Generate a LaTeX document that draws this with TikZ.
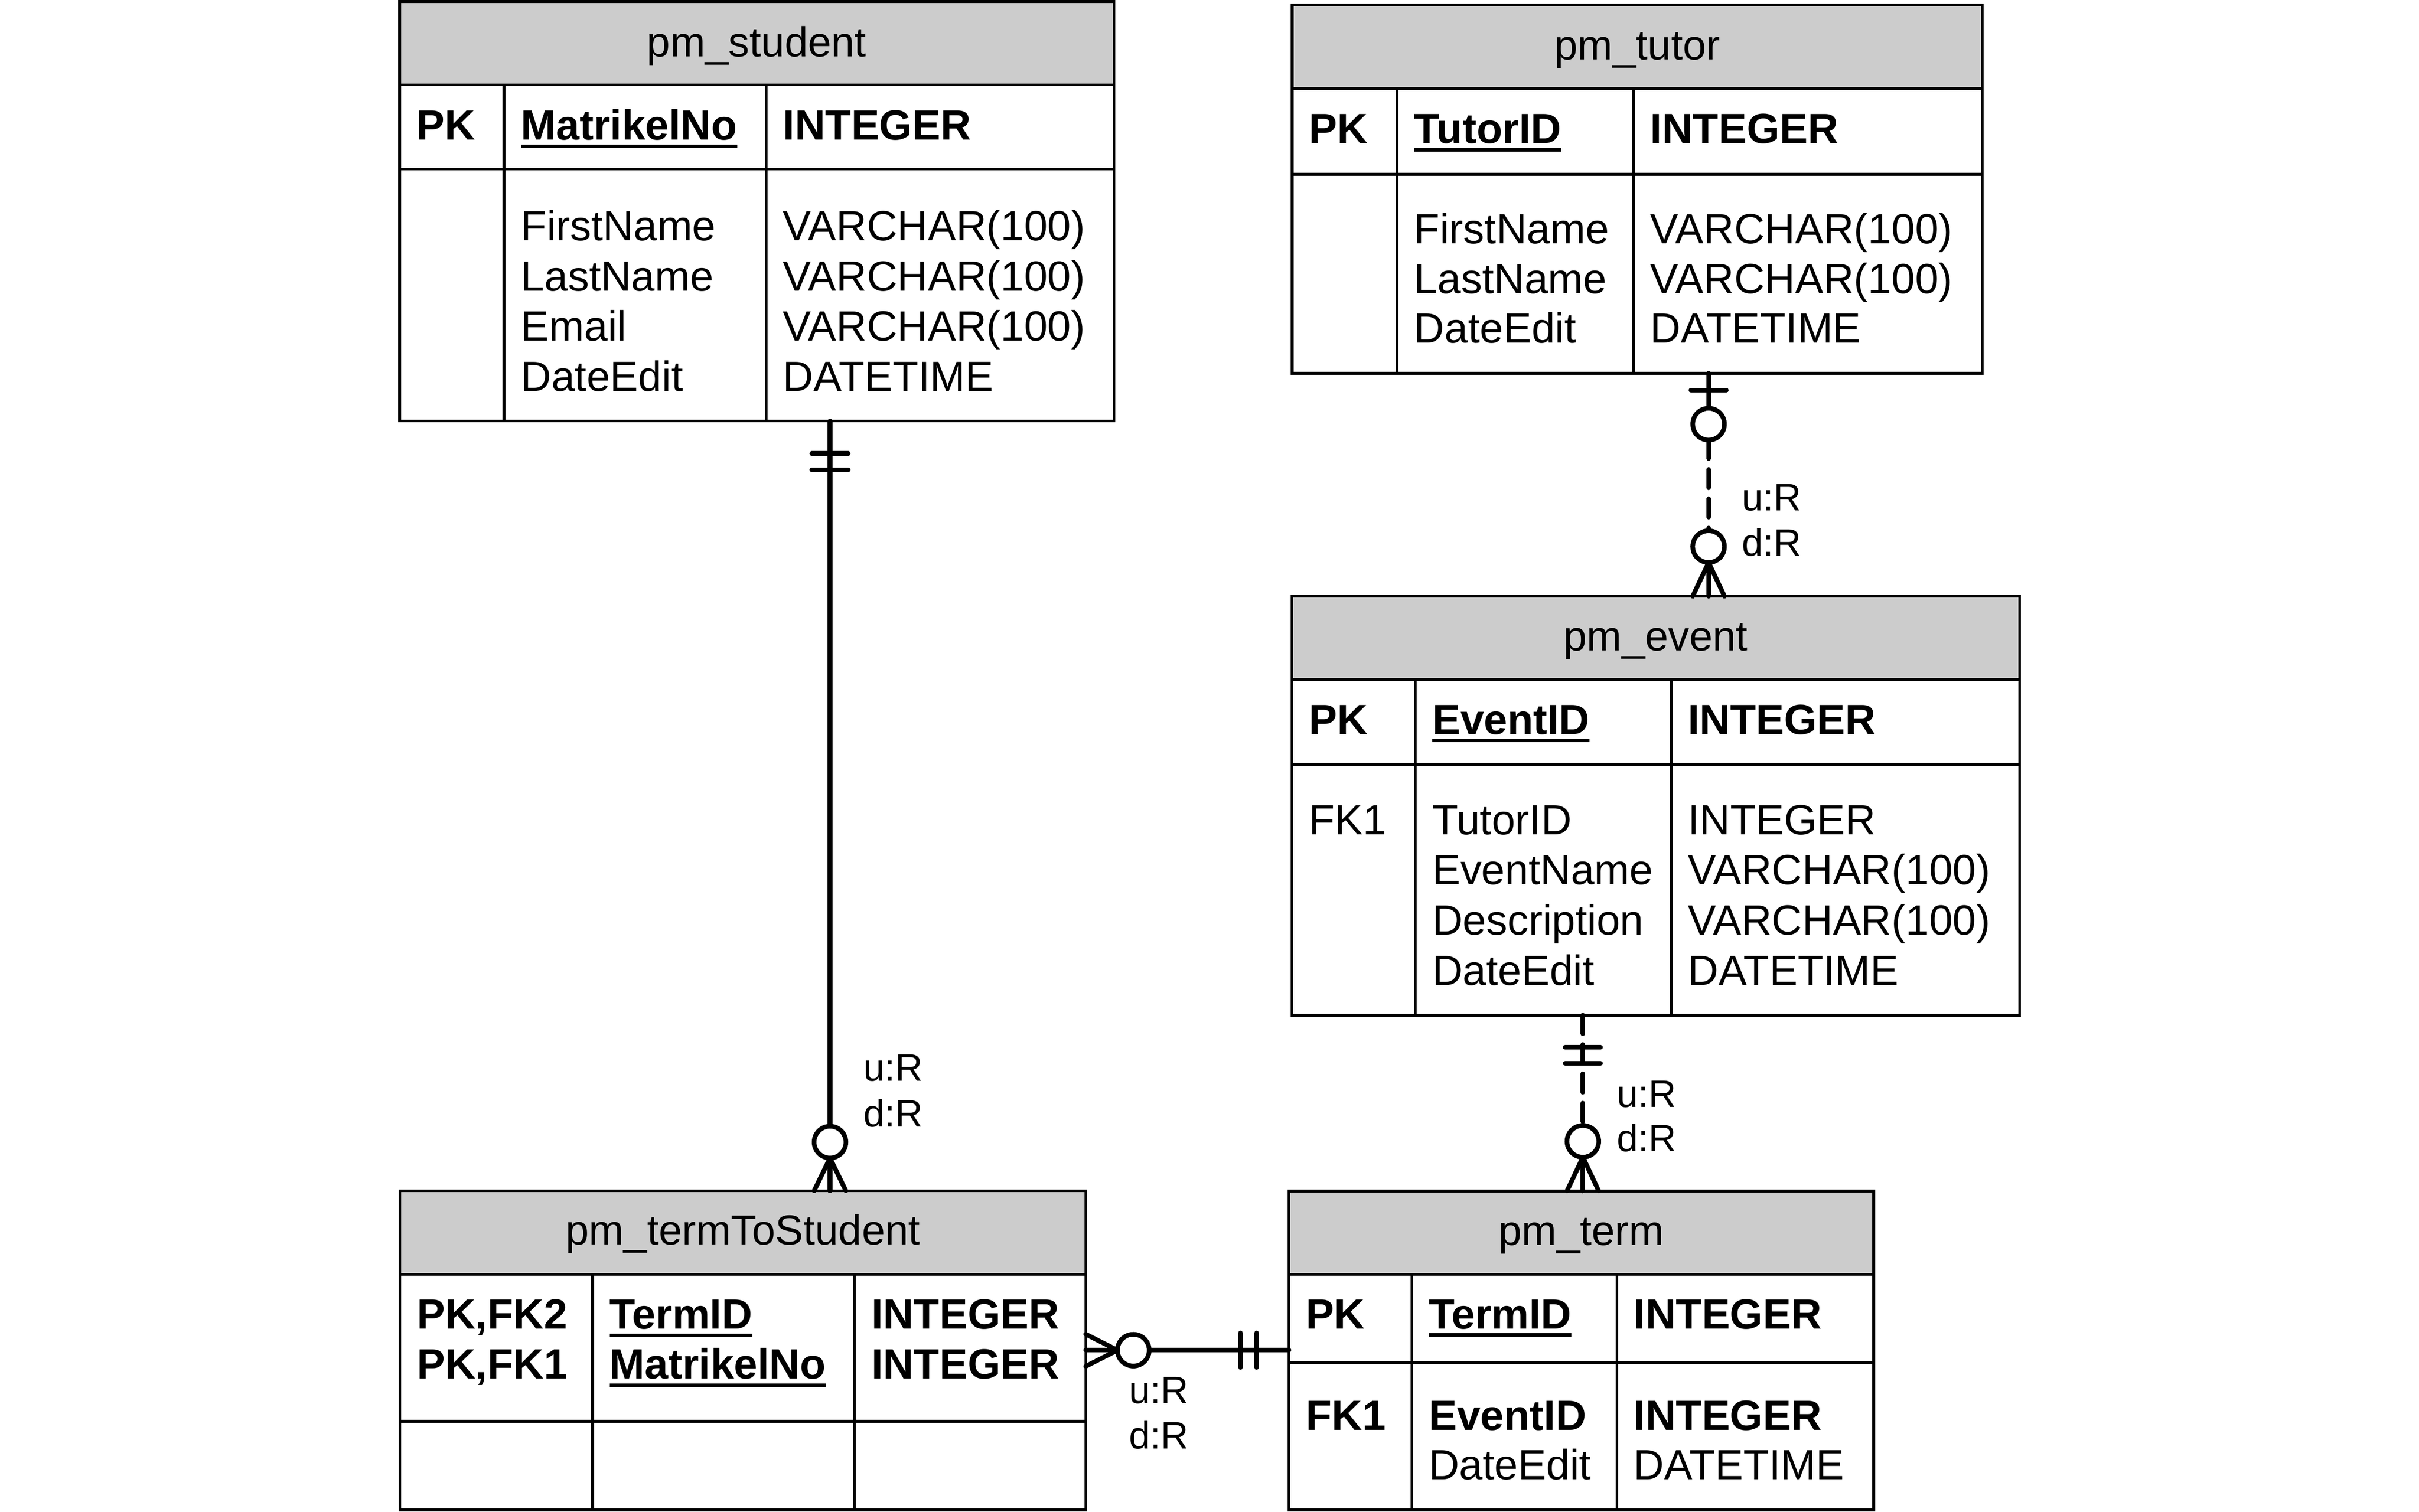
\documentclass[tikz,border=0pt]{standalone}
\usepackage{fontspec}
\setmainfont{Liberation Sans}
\definecolor{hdrgray}{RGB}{204,204,204}
\newcommand\ulword[1]{\setbox0\hbox{#1}\rlap{\rule[-5.2pt]{\wd0}{2.2pt}}\box0}
\begin{document}
\begin{tikzpicture}[x=1pt,y=-1pt,
  txt/.style={font=\fontsize{27.4}{32.5}\selectfont, inner sep=0pt, outer sep=0pt, anchor=base west, xshift=1pt},
  ttl/.style={font=\fontsize{27.2}{32.5}\selectfont, inner sep=0pt, outer sep=0pt, anchor=base},
  lbl/.style={font=\fontsize{24.8}{29.5}\selectfont, inner sep=0pt, outer sep=0pt, anchor=base west},
  box/.style={draw, line width=1.75pt, inner sep=0pt, outer sep=0pt, anchor=north west},
  grid/.style={line width=1.75pt},
  conn/.style={line width=3pt, line cap=round},
  dsh/.style={dash pattern=on 12pt off 7pt},
  crow/.style={line width=3pt, line cap=round, line join=round},
  barst/.style={line width=3pt, line cap=round},
  circ/.style={line width=3pt, fill=white}]
\useasboundingbox (0,0) rectangle (1568,980);

% ---------------- pm_student
\fill[hdrgray] (259,1) rectangle (722,55);
\node[box, minimum width=463pt, minimum height=272pt] (student) at (259,1) {};
\draw[grid] (259,55) -- (722,55) (259,109.5) -- (722,109.5)
  (326.7,55) -- (326.7,273) (496.6,55) -- (496.6,273);
\node[ttl] (student-t) at (490.5,36.6) {pm\_student};
\node[txt] (student-k) at (269,90.6) {\textbf{PK}};
\node[txt] (student-n) at (336.7,90.6) {\textbf{\ulword{MatrikelNo}}};
\node[txt] (student-d) at (506.6,90.6) {\textbf{INTEGER}};
\node[txt] (student-a1) at (336.7,156) {FirstName};
\node[txt] (student-a2) at (336.7,188.5) {LastName};
\node[txt] (student-a3) at (336.7,221) {Email};
\node[txt] (student-a4) at (336.7,253.6) {DateEdit};
\node[txt] (student-b1) at (506.6,156) {VARCHAR(100)};
\node[txt] (student-b2) at (506.6,188.5) {VARCHAR(100)};
\node[txt] (student-b3) at (506.6,221) {VARCHAR(100)};
\node[txt] (student-b4) at (506.6,253.6) {DATETIME};

% ---------------- pm_tutor
\fill[hdrgray] (837.6,3) rectangle (1285,57.5);
\node[box, minimum width=447.4pt, minimum height=239pt] (tutor) at (837.6,3) {};
\draw[grid] (837.6,57.5) -- (1285,57.5) (837.6,113) -- (1285,113)
  (905.6,57.5) -- (905.6,242) (1058.8,57.5) -- (1058.8,242);
\node[ttl] (tutor-t) at (1061.3,38.7) {pm\_tutor};
\node[txt] (tutor-k) at (847.6,93) {\textbf{PK}};
\node[txt] (tutor-n) at (915.6,93) {\textbf{\ulword{TutorID}}};
\node[txt] (tutor-d) at (1068.8,93) {\textbf{INTEGER}};
\node[txt] (tutor-a1) at (915.6,158) {FirstName};
\node[txt] (tutor-a2) at (915.6,190.4) {LastName};
\node[txt] (tutor-a3) at (915.6,222.4) {DateEdit};
\node[txt] (tutor-b1) at (1068.8,158) {VARCHAR(100)};
\node[txt] (tutor-b2) at (1068.8,190.4) {VARCHAR(100)};
\node[txt] (tutor-b3) at (1068.8,222.4) {DATETIME};

% ---------------- pm_event
\fill[hdrgray] (837.4,386.6) rectangle (1309,440.7);
\node[box, minimum width=471.6pt, minimum height=271.6pt] (event) at (837.4,386.6) {};
\draw[grid] (837.4,440.7) -- (1309,440.7) (837.4,495.5) -- (1309,495.5)
  (917.4,440.7) -- (917.4,658.2) (1083.2,440.7) -- (1083.2,658.2);
\node[ttl] (event-t) at (1073.2,422) {pm\_event};
\node[txt] (event-k) at (847.4,476) {\textbf{PK}};
\node[txt] (event-n) at (927.4,476) {\textbf{\ulword{EventID}}};
\node[txt] (event-d) at (1093.2,476) {\textbf{INTEGER}};
\node[txt] (event-f) at (847.4,541) {FK1};
\node[txt] (event-a1) at (927.4,541) {TutorID};
\node[txt] (event-a2) at (927.4,573.6) {EventName};
\node[txt] (event-a3) at (927.4,606) {Description};
\node[txt] (event-a4) at (927.4,638.7) {DateEdit};
\node[txt] (event-b1) at (1093.2,541) {INTEGER};
\node[txt] (event-b2) at (1093.2,573.6) {VARCHAR(100)};
\node[txt] (event-b3) at (1093.2,606) {VARCHAR(100)};
\node[txt] (event-b4) at (1093.2,638.7) {DATETIME};

% ---------------- pm_term
\fill[hdrgray] (835.5,772.2) rectangle (1214.5,826.2);
\node[box, minimum width=379pt, minimum height=206.8pt] (term) at (835.5,772.2) {};
\draw[grid] (835.5,826.2) -- (1214.5,826.2) (835.5,883.4) -- (1214.5,883.4)
  (915.2,826.2) -- (915.2,979) (1048,826.2) -- (1048,979);
\node[ttl] (term-t) at (1025,807.5) {pm\_term};
\node[txt] (term-k) at (845.5,861.5) {\textbf{PK}};
\node[txt] (term-n) at (925.2,861.5) {\textbf{\ulword{TermID}}};
\node[txt] (term-d) at (1058,861.5) {\textbf{INTEGER}};
\node[txt] (term-f) at (845.5,927.2) {\textbf{FK1}};
\node[txt] (term-a1) at (925.2,927.2) {\textbf{EventID}};
\node[txt] (term-a2) at (925.2,959.2) {DateEdit};
\node[txt] (term-b1) at (1058,927.2) {\textbf{INTEGER}};
\node[txt] (term-b2) at (1058,959.2) {DATETIME};

% ---------------- pm_termToStudent
\fill[hdrgray] (259.3,772.1) rectangle (703.7,826.3);
\node[box, minimum width=444.4pt, minimum height=206.9pt] (tts) at (259.3,772.1) {};
\draw[grid] (259.3,826.3) -- (703.7,826.3) (259.3,921.5) -- (703.7,921.5)
  (384.2,826.3) -- (384.2,979) (553.8,826.3) -- (553.8,979);
\node[ttl] (tts-t) at (481.5,807) {pm\_termToStudent};
\node[txt] (tts-k1) at (269.3,861.7) {\textbf{PK,FK2}};
\node[txt] (tts-k2) at (269.3,894) {\textbf{PK,FK1}};
\node[txt] (tts-n1) at (394.2,861.7) {\textbf{\ulword{TermID}}};
\node[txt] (tts-n2) at (394.2,894) {\textbf{\ulword{MatrikelNo}}};
\node[txt] (tts-d1) at (563.8,861.7) {\textbf{INTEGER}};
\node[txt] (tts-d2) at (563.8,894) {\textbf{INTEGER}};

% ---------------- connectors
\coordinate (ca) at (538,0);
\coordinate (cb) at (1107.5,0);
\coordinate (cc) at (1026,0);
\coordinate (cd) at (0,875.4);

% student -> termToStudent
\draw[conn] (ca |- student.south) -- (ca |- tts.north);
\draw[barst] (526.2,294) -- (549.8,294) (526.2,304.7) -- (549.8,304.7);
\draw[crow] (527.7,772.1) -- (538,750.8) -- (548.3,772.1);
\draw[circ] (538,740.5) circle[radius=10.3];
\node[lbl] (la1) at (559.7,701) {u:R};
\node[lbl] (la2) at (559.7,730.5) {d:R};

% tutor -> event
\draw[conn] (cb |- tutor.south) -- (1107.5,264.7);
\draw[conn, dsh] (1107.5,285.3) -- (1107.5,344.1);
\draw[conn] (1107.5,364.7) -- (cb |- event.north);
\draw[barst] (1096,253) -- (1119,253);
\draw[circ] (1107.5,275) circle[radius=10.3];
\draw[crow] (1097.2,386.6) -- (1107.5,364.7) -- (1117.8,386.6);
\draw[circ] (1107.5,354.4) circle[radius=10.3];
\node[lbl] (lb1) at (1129.1,331) {u:R};
\node[lbl] (lb2) at (1129.1,360.4) {d:R};

% event -> term
\draw[conn, dsh] (cc |- event.south) -- (1026,729.7);
\draw[conn] (1026,750.3) -- (cc |- term.north);
\draw[barst] (1014.5,679) -- (1037.5,679) (1014.5,689.4) -- (1037.5,689.4);
\draw[crow] (1015.7,772.2) -- (1026,750.3) -- (1036.3,772.2);
\draw[circ] (1026,740) circle[radius=10.3];
\node[lbl] (lc1) at (1048.1,718) {u:R};
\node[lbl] (lc2) at (1048.1,746.7) {d:R};

% termToStudent <-> term
\draw[conn] (tts.east |- cd) -- (term.west |- cd);
\draw[crow] (703.7,865) -- (724.3,875.4) -- (703.7,885.9);
\draw[circ] (734.6,875.4) circle[radius=10.3];
\draw[barst] (804,864.2) -- (804,886.6) (814.4,864.2) -- (814.4,886.6);
\node[lbl] (ld1) at (731.8,909.8) {u:R};
\node[lbl] (ld2) at (731.8,939.2) {d:R};
\end{tikzpicture}
\end{document}
